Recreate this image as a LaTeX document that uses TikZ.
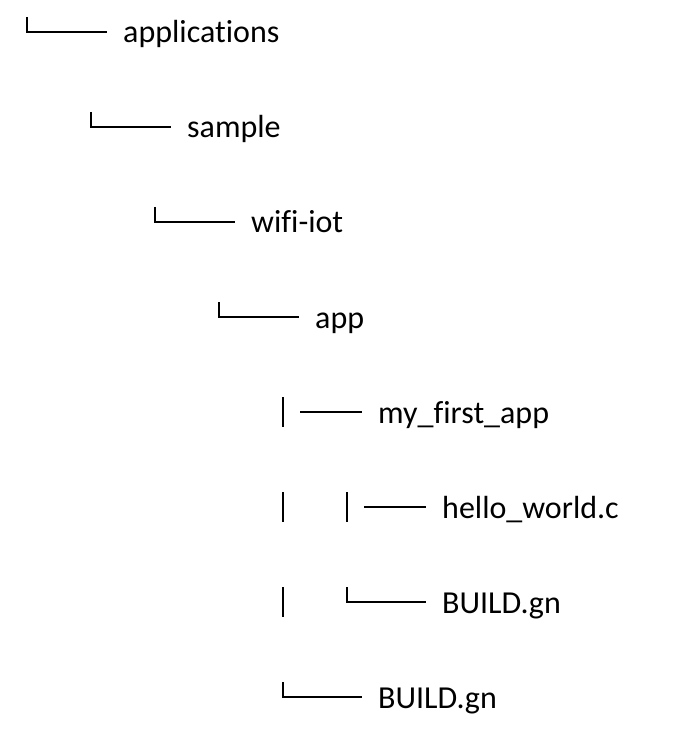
\documentclass[tikz,border=0pt]{standalone}
\usepackage{fontspec}
\setmainfont{Carlito}[Ligatures=NoCommon]
\usetikzlibrary{calc}
\usetikzlibrary{positioning}

\begin{document}
\begin{tikzpicture}[x=1pt,y=1pt,
    entry/.style={anchor=west,inner xsep=16pt,inner ysep=0pt,text height=26pt,text depth=4pt,font=\fontsize{32}{38}\selectfont},
    branch/.style={draw,line width=2pt}]

  \useasboundingbox (0,0) rectangle (689,-743);

  \node [entry] (applications) at (107,-32) {applications};
  \node [entry] (sample) at (171,-127) {sample};
  \node [entry] (wifiiot) at (235,-222) {wifi-iot};
  \node [entry] (app) at (299,-317) {app};
  \node [entry] (myfirstapp) at (362,-412) {my\_first\_app};
  \node [entry] (helloworld) at (426,-507) {hello\_world.c};
  \node [entry] (innerbuild) at (426,-602) {BUILD.gn};
  \node [entry] (outerbuild) at (362,-697) {BUILD.gn};

  % corners
  \path [branch]
    ($(applications.west) + (-80,15)$) |- (applications.west)
    ($(sample.west) + (-80,15)$) |- (sample.west)
    ($(wifiiot.west) + (-80,15)$) |- (wifiiot.west)
    ($(app.west) + (-80,15)$) |- (app.west)
    ($(innerbuild.west) + (-79,15)$) |- (innerbuild.west)
    ($(outerbuild.west) + (-79,15)$) |- (outerbuild.west);

  % bars and dashes
  \path [branch]
    ($(myfirstapp.west) + (-79,15)$) -- ++(0,-30)
    ($(myfirstapp.west) + (-62,0)$) -- (myfirstapp.west)
    ($(helloworld.west) + (-143,15)$) -- ++(0,-30)
    ($(helloworld.west) + (-79,15)$) -- ++(0,-30)
    ($(helloworld.west) + (-62,0)$) -- (helloworld.west)
    ($(innerbuild.west) + (-143,15)$) -- ++(0,-30);

\end{tikzpicture}
\end{document}
